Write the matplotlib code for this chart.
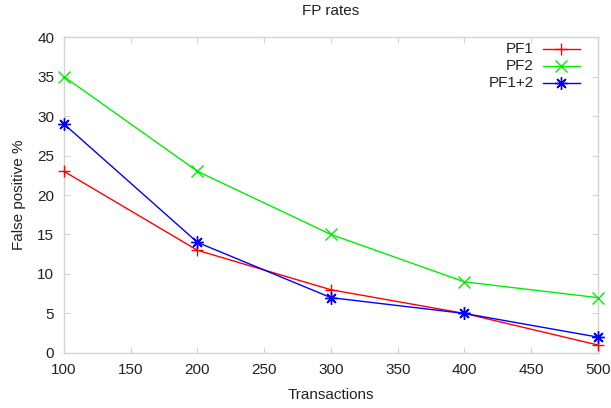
import matplotlib
matplotlib.use("Agg")
import matplotlib.pyplot as plt

transactions = [100, 200, 300, 400, 500]
pf1 = [23, 13, 8, 5, 1]
pf2 = [35, 23, 15, 9, 7]
pf12 = [29, 14, 7, 5, 2]
labels = ['PF1', 'PF2', 'PF1+2']
xticks = [100, 150, 200, 250, 300, 350, 400, 450, 500]
yticks = [0, 5, 10, 15, 20, 25, 30, 35, 40]

plt.rcParams['font.family'] = ['Liberation Sans', 'DejaVu Sans']
fig = plt.figure(figsize=(6.11, 4.08), dpi=100)
ax = fig.add_axes([0.1047, 0.135, 0.874, 0.774])

styles = [
    dict(color='#ff0000', marker='+', ms=9),
    dict(color='#00ee00', marker='x', ms=8),
    dict(color='#0000ff', marker=(8, 2, 0), ms=9),
]
series = [pf1, pf2, pf12]
for ys, st in zip(series, styles):
    ax.plot(transactions, ys, lw=1.0, mew=1.0, clip_on=False, zorder=3, **st)

ax.set_xlim(100, 500)
ax.set_ylim(0, 40)
ax.set_xticks(xticks)
ax.set_yticks(yticks)
for s in ax.spines.values():
    s.set_color('#d4d4d4')
    s.set_linewidth(1.0)
ax.tick_params(direction='in', color='#d4d4d4', length=4, top=True, right=True,
               labelsize=11, labelcolor='#222222', pad=7)

ax.set_title('FP rates', fontsize=11, pad=16, color='#222222')
ax.set_xlabel('Transactions', fontsize=11, labelpad=8, color='#222222')
ax.set_ylabel('False positive %', fontsize=11, labelpad=8, color='#222222')

# gnuplot-style legend: right-aligned labels, sample line to the right
leg_y = [0.962, 0.908, 0.854]
for lab, st, y in zip(labels, styles, leg_y):
    ax.text(0.880, y, lab, transform=ax.transAxes, ha='right', va='center',
            fontsize=11, color='#222222')
    ax.plot([0.897, 0.966], [y, y], transform=ax.transAxes, color=st['color'], lw=1.0)
    ax.plot([0.9315], [y], transform=ax.transAxes, color=st['color'],
            marker=st['marker'], ms=st['ms'], mew=1.0, lw=0)

fig.savefig('out.png', dpi=100)
